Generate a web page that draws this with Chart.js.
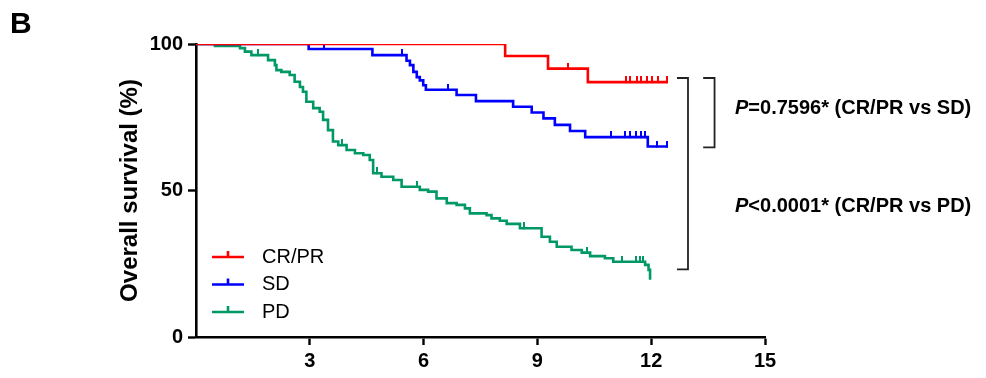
<!DOCTYPE html>
<html>
<head>
<meta charset="utf-8">
<script src="https://cdn.jsdelivr.net/npm/chart.js@4/dist/chart.umd.min.js"></script>
<style>
  html, body { margin: 0; padding: 0; background: #fff; }
  #wrap { position: relative; width: 986px; height: 378px; }
</style>
</head>
<body>
<div id="wrap"><canvas id="chart"></canvas></div>
<script>
const FONT = "'Liberation Sans', Arial, sans-serif";

const groups = ["CR/PR", "SD", "PD"];
const colors = ["#ff0000", "#0000ff", "#009966"];

const xTicks = [3, 6, 9, 12, 15];
const yTicks = [0, 50, 100];

// CR/PR
const redTimes = [0, 8.15, 9.28, 10.33, 12.44];
const redSurvival = [100, 95.9, 91.6, 87.0, 87.0];
const redCensored = [9.8, 11.34, 11.44, 11.62, 11.73, 11.88, 12.01, 12.19, 12.41];

// SD
const blueTimes = [0, 2.97, 4.65, 5.55, 5.64, 5.73, 5.82, 5.9, 5.99, 6.06, 6.87, 7.38, 8.36, 8.85, 9.16, 9.46, 9.86, 10.26, 11.91, 12.44];
const blueSurvival = [100, 98.3, 96.2, 94.3, 92.8, 90.5, 88.7, 87.6, 85.9, 84.4, 82.6, 80.5, 78.6, 76.6, 74.6, 72.4, 70.3, 68.2, 65.0, 65.0];
const blueCensored = [1.76, 3.37, 5.43, 6.64, 10.94, 11.31, 11.45, 11.6, 11.73, 11.83, 12.15, 12.41];

// PD
const greenTimes = [0, 0.5, 1.16, 1.29, 1.46, 1.9, 2.08, 2.12, 2.25, 2.47, 2.6, 2.74, 2.82, 2.91, 3.09, 3.26, 3.35, 3.48, 3.61, 3.75, 3.97, 4.19, 4.41, 4.58, 4.67, 4.89, 5.2, 5.42, 5.9, 6.12, 6.34, 6.61, 6.87, 7.09, 7.22, 7.66, 7.79, 8.01, 8.19, 8.54, 9.11, 9.33, 9.51, 9.9, 10.17, 10.39, 10.78, 11.0, 11.84, 11.93, 11.97];
const greenSurvival = [100, 99.3, 98.6, 97.4, 96.2, 94.5, 92.8, 91.1, 90.5, 89.4, 87.1, 85.3, 83.7, 80.3, 78.1, 76.9, 74.1, 70.6, 66.7, 65.5, 63.8, 62.7, 62.1, 60.4, 55.9, 54.7, 53.6, 51.3, 50.2, 49.6, 47.3, 45.7, 45.1, 43.9, 42.2, 41.6, 40.5, 39.7, 38.6, 37.1, 34.2, 32.5, 30.8, 29.7, 28.8, 27.6, 26.9, 25.7, 24.6, 22.9, 19.5];
const greenCensored = [1.64, 3.84, 4.76, 5.82, 8.65, 10.3, 11.24, 11.6, 11.7, 11.79];

const series = [
  { times: redTimes, survival: redSurvival, censored: redCensored },
  { times: blueTimes, survival: blueSurvival, censored: blueCensored },
  { times: greenTimes, survival: greenSurvival, censored: greenCensored },
];

// comparison brackets, in axis units
const comparisons = [
  { text: "=0.7596* (CR/PR vs SD)", top: 88.4, bottom: 64.7, x: 13.67, arm: 13.37, labelY: 78 },
  { text: "<0.0001* (CR/PR vs PD)", top: 88.4, bottom: 23.1, x: 12.97, arm: 12.68, labelY: 44.4 },
];
const labelX = 14.21;

const survivalAt = (times, survival, t) => {
  let value = survival[0];
  times.forEach((time, i) => { if (time <= t) value = survival[i]; });
  return value;
};

const censorMark = (color) => {
  const c = document.createElement("canvas");
  c.width = 2;
  c.height = 12;
  const ctx = c.getContext("2d");
  ctx.fillStyle = color;
  ctx.fillRect(0, 0, 2, 7);
  return c;
};

const datasets = [];
series.forEach((s, i) => {
  datasets.push({
    label: groups[i],
    data: s.times.map((t, j) => ({ x: t, y: s.survival[j] })),
    showLine: true,
    stepped: true,
    borderColor: colors[i],
    borderWidth: 2.6,
    pointRadius: 0,
    fill: false,
  });
  datasets.push({
    label: groups[i] + " censored",
    data: s.censored.map((t) => ({ x: t, y: survivalAt(s.times, s.survival, t) })),
    showLine: false,
    pointStyle: censorMark(colors[i]),
    pointRadius: 3,
  });
});

const annotations = {
  id: "annotations",
  afterDraw(chart) {
    const { ctx, chartArea, scales: { x, y } } = chart;
    ctx.save();

    // panel letter
    ctx.fillStyle = "#000";
    ctx.font = `bold 30px ${FONT}`;
    ctx.textBaseline = "alphabetic";
    ctx.fillText("B", 10, 33);

    // legend
    ctx.font = `20px ${FONT}`;
    ctx.textBaseline = "middle";
    groups.forEach((g, i) => {
      const ly = 257 + i * 27.5;
      const lx = chartArea.left + 16;
      ctx.strokeStyle = colors[i];
      ctx.lineWidth = 2.6;
      ctx.beginPath();
      ctx.moveTo(lx, ly);
      ctx.lineTo(lx + 32, ly);
      ctx.moveTo(lx + 16, ly);
      ctx.lineTo(lx + 16, ly - 6);
      ctx.stroke();
      ctx.fillStyle = "#000";
      ctx.fillText(g, lx + 50, ly);
    });

    // brackets and p-values
    ctx.strokeStyle = "#222";
    ctx.lineWidth = 1.8;
    comparisons.forEach((c) => {
      const bx = x.getPixelForValue(c.x);
      const ax = x.getPixelForValue(c.arm);
      const top = y.getPixelForValue(c.top);
      const bottom = y.getPixelForValue(c.bottom);
      ctx.beginPath();
      ctx.moveTo(ax, top);
      ctx.lineTo(bx, top);
      ctx.lineTo(bx, bottom);
      ctx.lineTo(ax, bottom);
      ctx.stroke();

      const tx = x.getPixelForValue(labelX);
      const ty = y.getPixelForValue(c.labelY);
      ctx.fillStyle = "#000";
      ctx.font = `italic bold 20px ${FONT}`;
      ctx.fillText("P", tx, ty);
      const pw = ctx.measureText("P").width;
      ctx.font = `bold 20px ${FONT}`;
      ctx.fillText(c.text, tx + pw, ty);
    });

    ctx.restore();
  },
};

new Chart(document.getElementById("chart"), {
  type: "scatter",
  data: { datasets },
  options: {
    responsive: true,
    maintainAspectRatio: false,
    animation: false,
    events: [],
    layout: { padding: { left: 0, right: 221, top: 44, bottom: 0 } },
    plugins: { legend: { display: false }, tooltip: { enabled: false } },
    scales: {
      x: {
        type: "linear",
        min: 0,
        max: 15,
        afterBuildTicks: (scale) => { scale.ticks = xTicks.map((value) => ({ value })); },
        afterFit: (scale) => { scale.height = 41; },
        border: { color: "#000", width: 2.6 },
        grid: { drawOnChartArea: false, tickLength: 8, tickWidth: 2.4, tickColor: "#000" },
        ticks: { color: "#000", padding: 4, maxRotation: 0, font: { family: FONT, size: 20, weight: "bold" } },
      },
      y: {
        type: "linear",
        min: 0,
        max: 100,
        afterBuildTicks: (scale) => { scale.ticks = yTicks.map((value) => ({ value })); },
        afterFit: (scale) => { scale.width = 196; },
        border: { color: "#000", width: 2.6 },
        grid: { drawOnChartArea: false, tickLength: 8, tickWidth: 2.4, tickColor: "#000" },
        ticks: { color: "#000", padding: 5, font: { family: FONT, size: 20, weight: "bold" } },
        title: {
          display: true,
          text: "Overall survival (%)",
          color: "#000",
          font: { family: FONT, size: 24, weight: "bold" },
          padding: { top: 116, bottom: 0 },
        },
      },
    },
  },
  plugins: [annotations],
});
</script>
</body>
</html>
